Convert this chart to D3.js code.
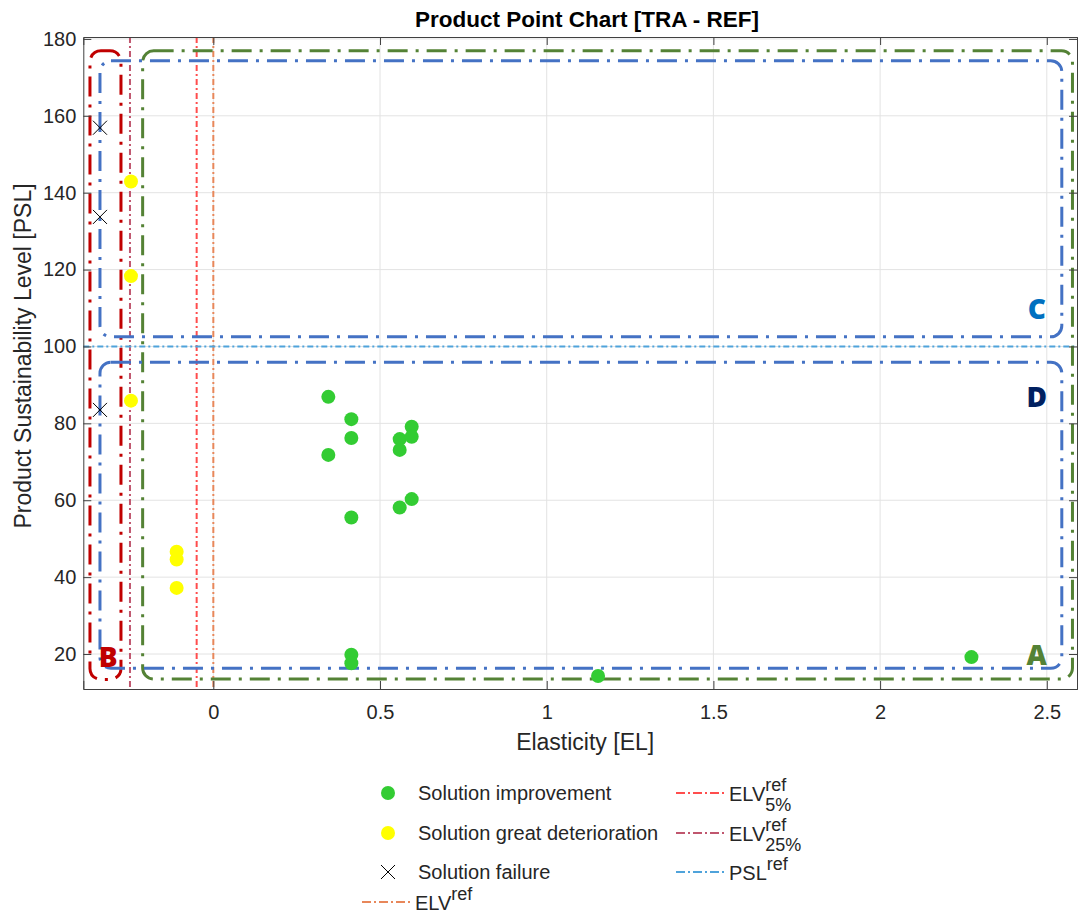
<!DOCTYPE html>
<html>
<head>
<meta charset="utf-8">
<script src="https://cdn.jsdelivr.net/npm/d3@7"></script>
<style>
  body { margin: 0; background: #fff; }
  svg text { font-family: "Liberation Sans", Arial, sans-serif; fill: #262626; }
</style>
</head>
<body>
<div id="chart"></div>
<script>
// --- data ---
const improvementEL  = [0.345, 0.345, 0.414, 0.414, 0.414, 0.559, 0.559, 0.559, 0.595, 0.595, 0.595, 0.414, 0.414, 1.154, 2.274];
const improvementPSL = [86.9, 71.8, 81.1, 76.2, 55.5, 75.9, 73.1, 58.1, 79.1, 76.5, 60.3, 19.8, 17.6, 14.3, 19.2];
const deteriorEL  = [-0.11, -0.11, -0.11, -0.247, -0.247, -0.247];
const deteriorPSL = [46.6, 44.6, 37.2, 142.9, 118.3, 85.9];
const failureEL  = [-0.34, -0.34, -0.34];
const failurePSL = [156.9, 133.7, 83.5];

const xTicks = [0, 0.5, 1, 1.5, 2, 2.5];
const yTicks = [20, 40, 60, 80, 100, 120, 140, 160, 180];

// reference lines
const refNames  = ['ELVref', 'ELV5', 'ELV25'];
const refValues = [0, -0.05, -0.25];
const refColors = ['#E8875A', '#FF4D4D', '#C0566E'];
const pslRef = 100;

// zone boxes [x0, x1, y0, y1] in data units
const zoneNames = ['A', 'B', 'C', 'D'];
const zoneBoxes = [
  [-0.212, 2.577, 13.5, 176.9],
  [-0.37, -0.277, 13.4, 176.9],
  [-0.34, 2.545, 102.5, 174.3],
  [-0.34, 2.545, 16.3, 95.9]
];
const zoneColors = ['#548235', '#C00000', '#4472C4', '#4472C4'];
const zoneLabelPos = [[2.47, 20], [-0.315, 19.5], [2.47, 110], [2.47, 87]];
const zoneLabelColors = ['#548235', '#C00000', '#0070C0', '#002060'];

const W = 1078, H = 917;
const margin = { top: 37, right: 1, bottom: 228, left: 83.3 };
const iw = W - margin.left - margin.right;
const ih = H - margin.top - margin.bottom;

const x = d3.scaleLinear().domain([-0.39, 2.5906]).range([0, iw]);
const y = d3.scaleLinear().domain([10.9, 180.5]).range([ih, 0]);

const svg = d3.select('#chart').append('svg').attr('width', W).attr('height', H);
const g = svg.append('g').attr('transform', `translate(${margin.left},${margin.top})`);

// grid
g.append('g').selectAll('line').data(xTicks).join('line')
  .attr('x1', d => x(d)).attr('x2', d => x(d)).attr('y1', 0).attr('y2', ih)
  .attr('stroke', '#e3e3e3');
g.append('g').selectAll('line').data(yTicks).join('line')
  .attr('y1', d => y(d)).attr('y2', d => y(d)).attr('x1', 0).attr('x2', iw)
  .attr('stroke', '#e3e3e3');

// vertical reference lines
const refDash = '6,3,2,3';
refValues.forEach((v, i) => {
  g.append('line')
    .attr('x1', x(v)).attr('x2', x(v)).attr('y1', 0).attr('y2', ih)
    .attr('stroke', refColors[i]).attr('stroke-width', 2)
    .attr('stroke-dasharray', refDash);
});
// PSL reference
g.append('line')
  .attr('x1', 0).attr('x2', iw).attr('y1', y(pslRef)).attr('y2', y(pslRef))
  .attr('stroke', '#4FA3DB').attr('stroke-width', 2)
  .attr('stroke-dasharray', refDash);

// zone boxes
zoneBoxes.forEach((b, i) => {
  g.append('rect')
    .attr('x', x(b[0])).attr('y', y(b[3]))
    .attr('width', x(b[1]) - x(b[0])).attr('height', y(b[2]) - y(b[3]))
    .attr('rx', 11).attr('ry', 11)
    .attr('fill', 'none')
    .attr('stroke', zoneColors[i]).attr('stroke-width', 3)
    .attr('stroke-dasharray', '20,8,3,8');
});

// points
g.append('g').selectAll('circle').data(d3.zip(improvementEL, improvementPSL)).join('circle')
  .attr('cx', d => x(d[0])).attr('cy', d => y(d[1])).attr('r', 7)
  .attr('fill', '#33CC33');
g.append('g').selectAll('circle').data(d3.zip(deteriorEL, deteriorPSL)).join('circle')
  .attr('cx', d => x(d[0])).attr('cy', d => y(d[1])).attr('r', 7)
  .attr('fill', '#FFFF00');
const cross = d3.symbol().type(d3.symbolX).size(130);
g.append('g').selectAll('path').data(d3.zip(failureEL, failurePSL)).join('path')
  .attr('transform', d => `translate(${x(d[0])},${y(d[1])})`)
  .attr('d', cross).attr('fill', 'none').attr('stroke', '#000').attr('stroke-width', 1);

// zone labels
zoneNames.forEach((n, i) => {
  g.append('text')
    .attr('x', x(zoneLabelPos[i][0])).attr('y', y(zoneLabelPos[i][1]))
    .attr('text-anchor', 'middle').attr('dominant-baseline', 'central')
    .style('font-family', '"Open Sans", Lato, sans-serif')
    .style('font-weight', 800).style('font-size', '28px')
    .style('fill', zoneLabelColors[i])
    .text(n);
});

// axes (ticks inside, box on)
const axisColor = '#404040';
const xAxis = g.append('g').attr('transform', `translate(0,${ih})`)
  .call(d3.axisBottom(x).tickValues(xTicks).tickSize(-8).tickPadding(16).tickFormat(d => String(d)));
const xTop = g.append('g')
  .call(d3.axisTop(x).tickValues(xTicks).tickSize(-8).tickFormat(''));
const yAxis = g.append('g')
  .call(d3.axisLeft(y).tickValues(yTicks).tickSize(-8).tickPadding(7).tickFormat(d => String(d)));
const yRight = g.append('g').attr('transform', `translate(${iw},0)`)
  .call(d3.axisRight(y).tickValues(yTicks).tickSize(-8).tickFormat(''));
[xAxis, xTop, yAxis, yRight].forEach(a => {
  a.select('.domain').attr('stroke', axisColor);
  a.selectAll('.tick line').attr('stroke', axisColor);
  a.selectAll('.tick text').style('font-size', '20px').style('fill', '#262626')
    .style('font-family', '"Liberation Sans", Arial, sans-serif');
});

// title and axis labels
svg.append('text').attr('x', 587).attr('y', 27).attr('text-anchor', 'middle')
  .style('font-weight', 'bold').style('font-size', '22.5px').style('fill', '#000')
  .text('Product Point Chart [TRA - REF]');
svg.append('text').attr('x', margin.left + iw / 2 + 5).attr('y', 750).attr('text-anchor', 'middle')
  .style('font-size', '23px').text('Elasticity [EL]');
svg.append('text').attr('transform', `translate(31,${margin.top + ih / 2 - 7}) rotate(-90)`)
  .attr('text-anchor', 'middle').style('font-size', '23px')
  .text('Product Sustainability Level [PSL]');

// legend
const legend = svg.append('g');
const legFont = '20px';
const pointItems = [
  { label: 'Solution improvement', type: 'dot', color: '#33CC33' },
  { label: 'Solution great deterioration', type: 'dot', color: '#FFFF00' },
  { label: 'Solution failure', type: 'x', color: '#000' }
];
const rowY = [793, 833, 872];
pointItems.forEach((it, i) => {
  if (it.type === 'dot') {
    legend.append('circle').attr('cx', 388).attr('cy', rowY[i]).attr('r', 7).attr('fill', it.color);
  } else {
    legend.append('path').attr('transform', `translate(388,${rowY[i]})`).attr('d', cross)
      .attr('fill', 'none').attr('stroke', '#000');
  }
  legend.append('text').attr('x', 418).attr('y', rowY[i] + 7).style('font-size', legFont).text(it.label);
});

function lineItem(x0, yy, color, main, sup, sub) {
  legend.append('line').attr('x1', x0).attr('x2', x0 + 50).attr('y1', yy).attr('y2', yy)
    .attr('stroke', color).attr('stroke-width', 2).attr('stroke-dasharray', '9,3,2,3');
  const t = legend.append('text').attr('x', x0 + 53).attr('y', yy + 8).style('font-size', legFont);
  t.append('tspan').text(main);
  const tx = x0 + 53 + t.node().getComputedTextLength();
  legend.append('text').attr('x', tx).attr('y', yy - 2).style('font-size', '18px').text(sup);
  if (sub) legend.append('text').attr('x', tx).attr('y', yy + 18).style('font-size', '18px').text(sub);
}
lineItem(676, 793, refColors[1], 'ELV', 'ref', '5%');
lineItem(676, 833, refColors[2], 'ELV', 'ref', '25%');
lineItem(676, 872, '#4FA3DB', 'PSL', 'ref');
lineItem(362, 902, refColors[0], 'ELV', 'ref');
</script>
</body>
</html>
